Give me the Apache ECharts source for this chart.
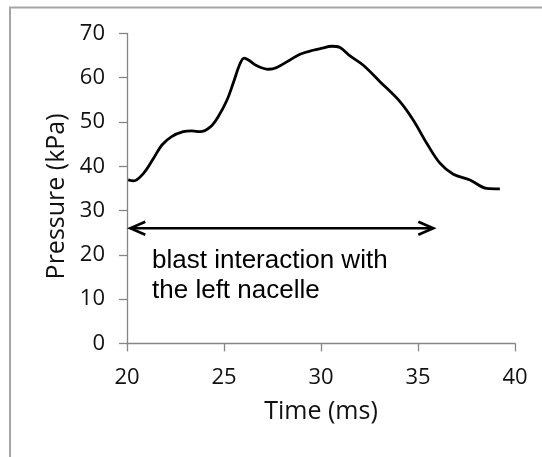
<!DOCTYPE html>
<html>
<head>
<meta charset="utf-8">
<script src="https://cdn.jsdelivr.net/npm/echarts@6/dist/echarts.min.js"></script>
<style>
html,body{margin:0;padding:0;background:#fff;}
#c{width:542px;height:457px;}
</style>
</head>
<body>
<div id="c"></div>
<script>
// ---- data ----
var timeMs = [20.06, 20.34, 20.85, 21.37, 21.8, 22.3, 22.9, 23.35, 23.77, 24.3, 24.7, 25.15, 25.5, 25.83, 26.04, 26.26, 26.7, 27.3, 27.72, 28.4, 28.92, 29.6, 30.0, 30.56, 30.98, 31.5, 32.18, 33.04, 34.07, 34.76, 35.45, 36.13, 36.82, 37.68, 38.54, 39.22];
var pressureKPa = [36.9, 36.7, 38.4, 41.8, 44.8, 46.7, 47.8, 48.0, 47.8, 48.9, 51.2, 54.9, 59.1, 63.2, 64.4, 64.0, 62.7, 61.9, 62.3, 64.0, 65.3, 66.2, 66.6, 67.1, 66.8, 64.9, 62.8, 59.1, 54.6, 50.4, 45.2, 40.7, 38.2, 36.9, 35.0, 34.9];
var arrowStart = [20.17, 26.0];
var arrowEnd = [35.79, 26.0];
var noteAnchor = [21.29, 22.0];
var noteLines = ['blast interaction with', 'the left nacelle'];
var xTicks = [20, 25, 30, 35, 40];
var yTicks = [0, 10, 20, 30, 40, 50, 60, 70];
var xName = 'Time (ms)';
var yName = 'Pressure (kPa)';

var linePoints = timeMs.map(function (t, i) { return [t, pressureKPa[i]]; });

var chart = echarts.init(document.getElementById('c'), null, {renderer: 'canvas'});
var FONT = '"Open Sans", "DejaVu Sans", sans-serif';

var option = {
  animation: false,
  backgroundColor: '#fff',
  graphic: [{
    type: 'rect',
    shape: {x: 10, y: 7.5, width: 700, height: 600},
    style: {fill: null, stroke: '#a6a6a6', lineWidth: 2},
    silent: true, z: -1
  }],
  grid: {left: 127, right: 27, top: 33.4, bottom: 113.6, containLabel: false, outerBoundsMode: 'none'},
  xAxis: {
    type: 'value',
    min: xTicks[0], max: xTicks[xTicks.length - 1], interval: 5,
    name: xName, nameLocation: 'middle', nameGap: 56,
    nameTextStyle: {fontFamily: FONT, fontSize: 25, color: '#111'},
    axisLine: {onZero: false, lineStyle: {color: '#868686', width: 1.3}},
    axisTick: {show: true, inside: false, length: 8, lineStyle: {color: '#868686', width: 1.3}},
    axisLabel: {margin: 23, fontFamily: FONT, fontSize: 22, color: '#111'},
    splitLine: {show: false}
  },
  yAxis: {
    type: 'value',
    min: yTicks[0], max: yTicks[yTicks.length - 1], interval: 10,
    name: yName, nameLocation: 'middle', nameGap: 56, nameRotate: 90,
    nameTextStyle: {fontFamily: FONT, fontSize: 25, color: '#111', padding: [0, 16, 0, 0]},
    axisLine: {show: true, lineStyle: {color: '#868686', width: 1.3}},
    axisTick: {show: true, inside: false, length: 8, lineStyle: {color: '#868686', width: 1.3}},
    axisLabel: {margin: 22, fontFamily: FONT, fontSize: 22, color: '#111'},
    splitLine: {show: false}
  },
  series: [
    {
      type: 'line',
      data: linePoints,
      smooth: 0.35,
      symbol: 'none',
      lineStyle: {color: '#000', width: 2.8},
      clip: false
    },
    {
      type: 'custom',
      data: [[arrowStart[0], arrowStart[1], arrowEnd[0], arrowEnd[1]]],
      encode: {x: [0, 2], y: [1, 3]},
      clip: false,
      renderItem: function (params, api) {
        var p1 = api.coord([api.value(0), api.value(1)]);
        var p2 = api.coord([api.value(2), api.value(3)]);
        var hx = 15, hy = 6.5;
        var st = {stroke: '#000', lineWidth: 2.6, fill: null, lineJoin: 'miter'};
        return {
          type: 'group',
          children: [
            {type: 'line', shape: {x1: p1[0] + 1, y1: p1[1], x2: p2[0] - 1, y2: p2[1]}, style: st},
            {type: 'polyline', shape: {points: [[p1[0] + hx, p1[1] - hy], [p1[0], p1[1]], [p1[0] + hx, p1[1] + hy]]}, style: st},
            {type: 'polyline', shape: {points: [[p2[0] - hx, p2[1] - hy], [p2[0], p2[1]], [p2[0] - hx, p2[1] + hy]]}, style: st}
          ]
        };
      }
    },
    {
      type: 'custom',
      data: [[noteAnchor[0], noteAnchor[1]]],
      encode: {x: 0, y: 1},
      clip: false,
      renderItem: function (params, api) {
        var p = api.coord([api.value(0), api.value(1)]);
        return {
          type: 'text',
          x: p[0], y: p[1],
          style: {
            text: noteLines.join('\n'),
            fontFamily: '"Liberation Sans", Arial, sans-serif',
            fontSize: 26, lineHeight: 30,
            fill: '#000', align: 'left', verticalAlign: 'top'
          }
        };
      }
    }
  ]
};
chart.setOption(option);
</script>
</body>
</html>
